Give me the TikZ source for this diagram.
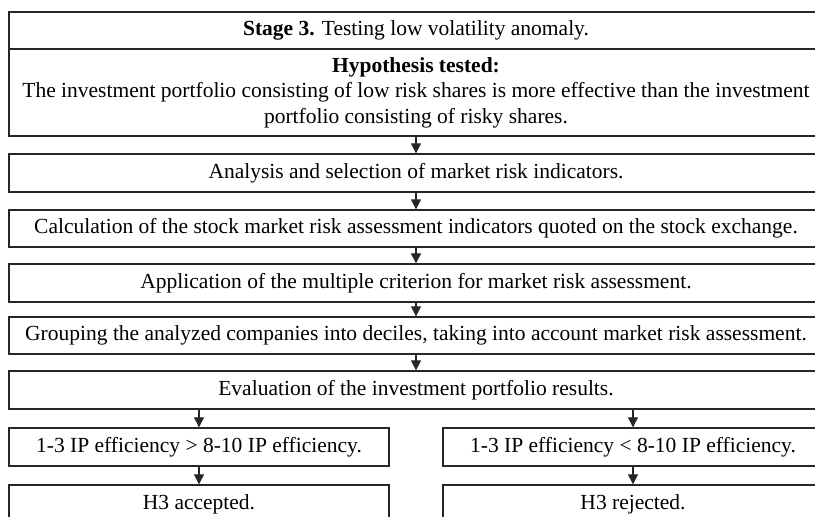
\documentclass[tikz,border=0pt]{standalone}
\usepackage{fontspec}
\setmainfont{Liberation Serif}
\usetikzlibrary{arrows.meta}
\begin{document}
\begin{tikzpicture}[x=1pt,y=-1pt,
  box/.style={draw=black!85, line width=1.4pt, inner sep=0pt, align=center,
    font=\fontsize{21.5}{25.5}\selectfont, minimum width=814pt},
  half/.style={box, minimum width=380pt},
  arr/.style={draw=black!85, line width=1.3pt, -{Triangle[length=10pt,width=10pt]}}
]
\useasboundingbox (0,0) rectangle (815,517);
\clip (0,0) rectangle (815,517);
\node[box, minimum height=37pt] (stage) at (416,30.5) {\textbf{Stage 3.} Testing low volatility anomaly.};
\node[box, minimum height=87pt] (hyp) at (416,92.5) {\textbf{Hypothesis tested:}\\The investment portfolio consisting of low risk shares is more effective than the investment\\portfolio consisting of risky shares.};
\node[box, minimum height=38pt] (ana) at (416,173) {Analysis and selection of market risk indicators.};
\node[box, minimum height=37pt] (calc) at (416,228.5) {Calculation of the stock market risk assessment indicators quoted on the stock exchange.};
\node[box, minimum height=38pt] (app) at (416,283) {Application of the multiple criterion for market risk assessment.};
\node[box, minimum height=37pt] (grp) at (416,335.5) {Grouping the analyzed companies into deciles, taking into account market risk assessment.};
\node[box, minimum height=38pt] (eval) at (416,390) {Evaluation of the investment portfolio results.};
\node[half, minimum height=38pt] (gt) at (199,447) {1-3 IP efficiency > 8-10 IP efficiency.};
\node[half, minimum height=38pt] (lt) at (633,447) {1-3 IP efficiency < 8-10 IP efficiency.};
\node[half, minimum height=38pt] (acc) at (199,504) {H3 accepted.};
\node[half, minimum height=38pt] (rej) at (633,504) {H3 rejected.};
\draw[arr] (hyp.south) -- (ana.north);
\draw[arr] (ana.south) -- (calc.north);
\draw[arr] (calc.south) -- (app.north);
\draw[arr] (app.south) -- (grp.north);
\draw[arr] (grp.south) -- (eval.north);
\draw[arr] (gt.north |- eval.south) -- (gt.north);
\draw[arr] (lt.north |- eval.south) -- (lt.north);
\draw[arr] (gt.south) -- (acc.north);
\draw[arr] (lt.south) -- (rej.north);
\end{tikzpicture}
\end{document}
